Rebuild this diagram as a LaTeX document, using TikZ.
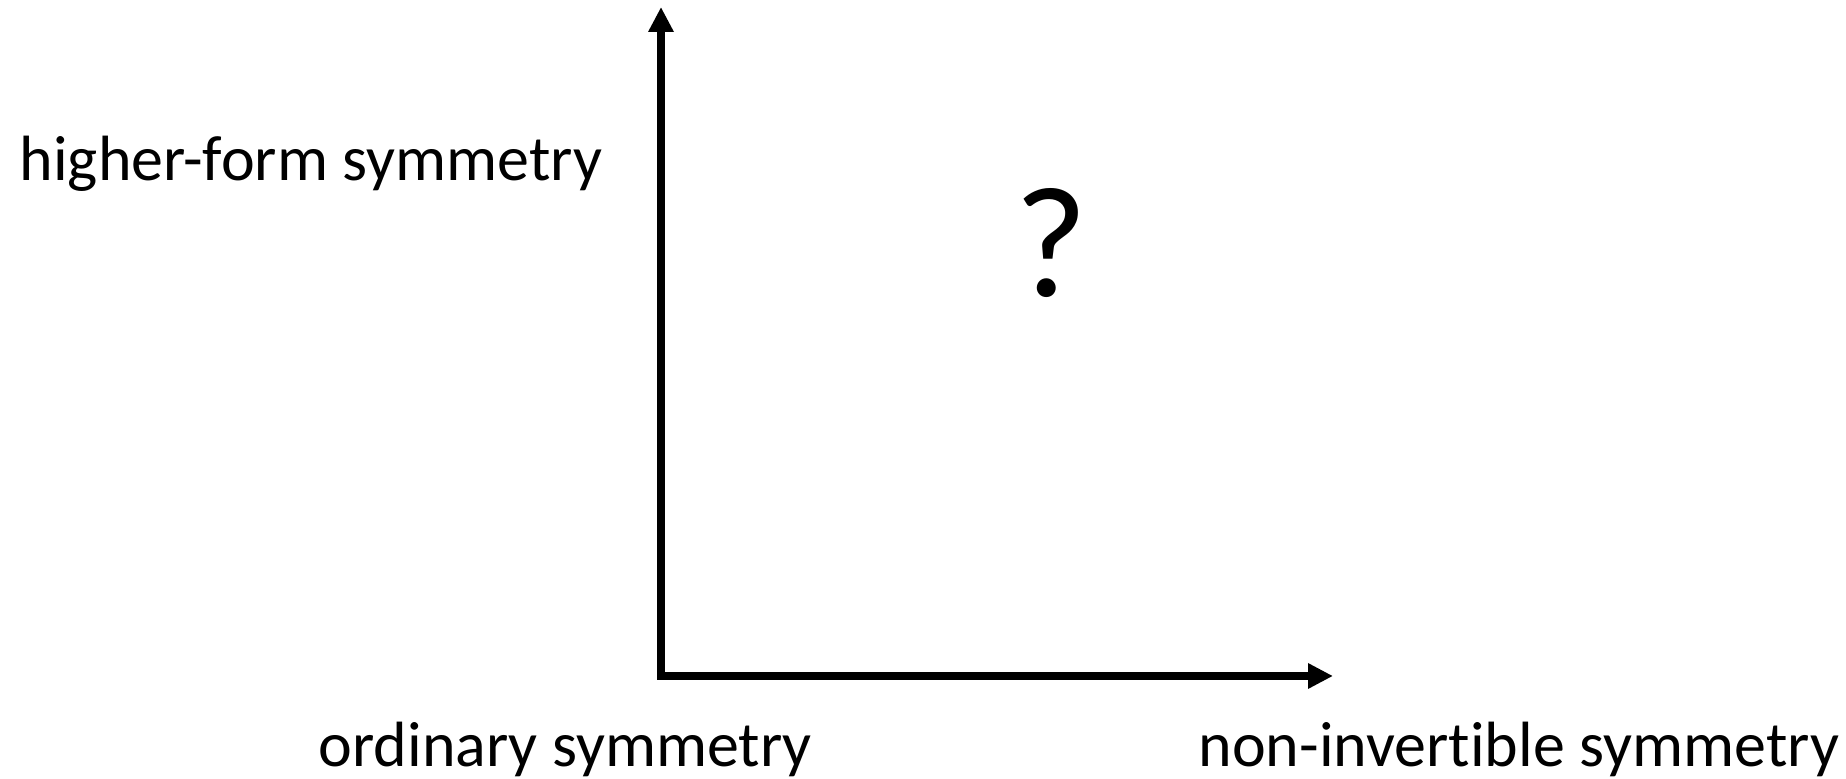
\documentclass[tikz,border=0pt]{standalone}
\usepackage{fontspec}
\setmainfont[Ligatures=NoCommon]{Carlito}
\usepackage{tikz}
\usetikzlibrary{arrows.meta}

\begin{document}
\begin{tikzpicture}[
    axis/.style={-{Triangle[length=0.25cm, width=0.24cm]}, line width=0.08cm, black},
    label/.style={inner sep=0pt, font=\fontsize{18.2}{20}\selectfont},
    query/.style={inner sep=0pt, font=\fontsize{45}{48}\selectfont}
]
    \useasboundingbox (0,0) rectangle (18.46,7.79);

    \coordinate (origin) at (6.61,1.00);
    \coordinate (xorigin) at (6.57,1.03);
    \coordinate (ytip) at (6.61,7.72);
    \coordinate (xtip) at (13.33,1.03);

    \draw[axis] (origin) -- (ytip);
    \draw[axis] (xorigin) -- (xtip);

    \node[label, anchor=base west] (higher) at (0.19,5.98) {higher-form symmetry};
    \node[label, anchor=base west] (ordinary) at (3.18,0.12) {ordinary symmetry};
    \node[label, anchor=base west] (noninv) at (11.98,0.12) {non-invertible symmetry};
    \node[query] (unknown) at (10.51,5.36) {?};
\end{tikzpicture}
\end{document}
